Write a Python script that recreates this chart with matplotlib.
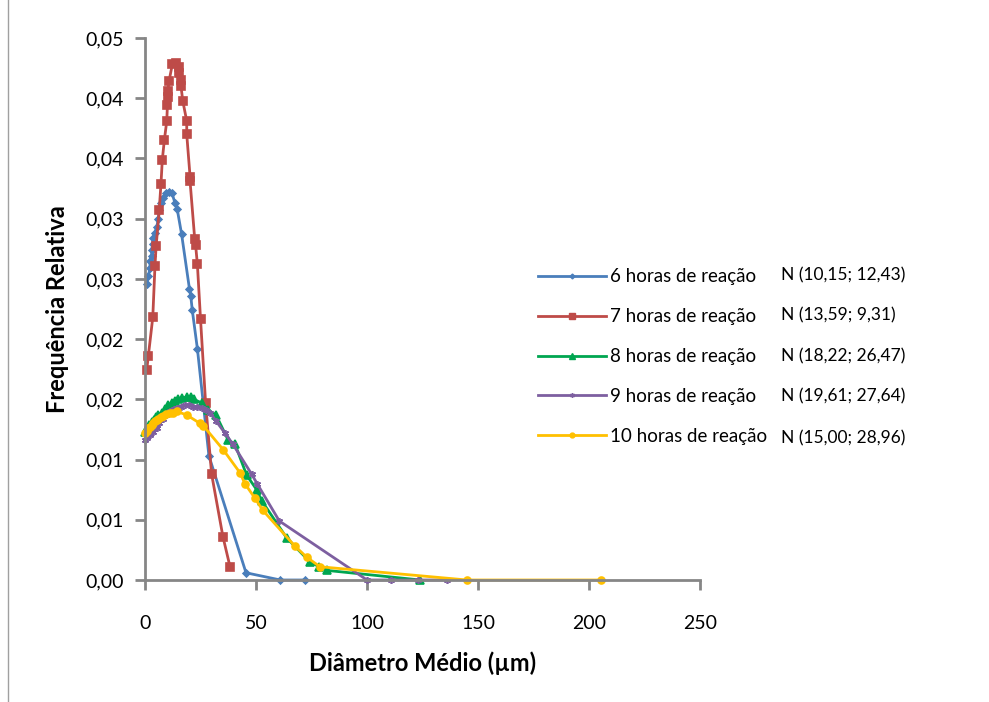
import matplotlib
matplotlib.use("Agg")
import matplotlib.pyplot as plt
from matplotlib.lines import Line2D

# diameter (um) and relative frequency
x_6h = [0.75, 1.5, 2.25, 2.25, 3, 3, 3.5, 3.75, 4.4, 5.3, 6, 6.4, 7, 8.2, 9.5, 11, 12.2,
        13.5, 14.5, 16.5, 20, 20.6, 21.3, 23.6, 28.8, 45.5, 61, 72]
y_6h = [0.0246, 0.0252, 0.0259, 0.0265, 0.0269, 0.0274, 0.0279, 0.0284, 0.0288, 0.0293,
        0.0300, 0.0307, 0.0313, 0.0317, 0.0321, 0.0322, 0.0321, 0.0313, 0.0308, 0.0287,
        0.0242, 0.0236, 0.0224, 0.0192, 0.0103, 0.0006, 0.0, 0.0]

x_7h = [0.75, 1.5, 3.5, 4.5, 5.0, 6.4, 7.2, 7.8, 8.7, 9.8, 10.1, 10.3, 10.3, 10.8, 12.3,
        13.8, 15.3, 15.3, 16.2, 16.2, 17, 18.8, 18.8, 20.3, 20.3, 22.4, 22.8, 23.6, 25,
        27.3, 30, 35.1, 38.3]
y_7h = [0.0174, 0.0186, 0.0218, 0.0261, 0.0277, 0.0307, 0.0329, 0.0349, 0.0365, 0.0381,
        0.0394, 0.0401, 0.0406, 0.0414, 0.0428, 0.0429, 0.0426, 0.0421, 0.0415, 0.0410,
        0.0398, 0.0381, 0.0370, 0.0335, 0.0331, 0.0283, 0.0278, 0.0262, 0.0217, 0.0147,
        0.0088, 0.0036, 0.0011]

x_8h = [0, 1, 2, 3, 4, 5, 6, 7.5, 9, 10.5, 12, 13.5, 15, 16.5, 18.8, 20.5, 22, 25.5,
        28.5, 32, 37.5, 40.5, 45.8, 50.3, 52.5, 63.8, 74.3, 78.5, 81.8, 124]
y_8h = [0.0123, 0.0126, 0.0129, 0.0131, 0.0133, 0.0135, 0.0137, 0.0139, 0.0142, 0.0145,
        0.0147, 0.0149, 0.0150, 0.0151, 0.0152, 0.0152, 0.0150, 0.0147, 0.0141, 0.0137,
        0.0116, 0.0113, 0.0087, 0.0075, 0.0066, 0.0035, 0.0015, 0.0011, 0.0008, 0.0]

x_9h = [0, 1, 2.25, 3.5, 5.3, 6.5, 8.25, 9.5, 11.3, 13, 14.3, 16, 18, 20, 21.8, 23.5,
        25.5, 27.5, 29.3, 32, 36, 39.5, 48, 50.5, 60.5, 100, 111, 123, 136]
y_9h = [0.0116, 0.0118, 0.0120, 0.0123, 0.0126, 0.0130, 0.0134, 0.0137, 0.0140, 0.0142,
        0.0143, 0.0144, 0.0145, 0.0145, 0.0144, 0.0144, 0.0143, 0.0141, 0.0139, 0.0132,
        0.0122, 0.0113, 0.0088, 0.0080, 0.0049, 0.0, 0.0, 0.0, 0.0]

x_10h = [0, 0.75, 1.5, 2.25, 3, 3.75, 4.5, 5.3, 6, 7, 8.25, 9.5, 11.3, 12.5, 14.3, 18.8,
         24.8, 26.3, 35.3, 42.8, 45, 49.5, 53, 67.6, 72.8, 78.8, 145, 205.5]
y_10h = [0.0122, 0.0124, 0.0126, 0.0127, 0.0129, 0.0130, 0.0132, 0.0133, 0.0134, 0.0135,
         0.0136, 0.0138, 0.0139, 0.0139, 0.0140, 0.0137, 0.0130, 0.0128, 0.0108, 0.0089,
         0.0080, 0.0068, 0.0058, 0.0028, 0.0019, 0.0011, 0.0, 0.0]

labels = ["6 horas de reação", "7 horas de reação", "8 horas de reação",
          "9 horas de reação", "10 horas de reação"]
fits = ["N (10,15; 12,43)", "N (13,59; 9,31)", "N (18,22; 26,47)",
        "N (19,61; 27,64)", "N (15,00; 28,96)"]
y_ticks = [0, 0.005, 0.01, 0.015, 0.02, 0.025, 0.03, 0.035, 0.04, 0.045]
y_tick_labels = ["0,00", "0,01", "0,01", "0,02", "0,02", "0,03", "0,03", "0,04", "0,04", "0,05"]
x_ticks = [0, 50, 100, 150, 200, 250]

plt.rcParams['font.family'] = ['Lato', 'DejaVu Sans']

fig = plt.figure(figsize=(9.89, 7.02), dpi=100)
ax = fig.add_axes([145 / 989, 122 / 702, 555 / 989, 542 / 702])

series = [
    (x_6h, y_6h, '#4A7EBB', 'D', 3.5),
    (x_7h, y_7h, '#BE4B48', 's', 5.5),
    (x_8h, y_8h, '#00A650', '^', 5.5),
    (x_9h, y_9h, '#7D5FA0', (6, 2, 0), 5),
    (x_10h, y_10h, '#FFC000', 'o', 5),
]
handles = []
for (xs, ys, c, m, ms), lab in zip(series, labels):
    ax.plot(xs, ys, color=c, lw=2, marker=m, ms=ms, mfc=c, mec=c, mew=1.2, clip_on=False)
    handles.append(Line2D([], [], color=c, lw=2, marker=m, ms=ms * 0.7, mfc=c, mec=c))

ax.set_xlim(0, 250)
ax.set_ylim(0, 0.045)
ax.set_xticks(x_ticks)
ax.set_xticklabels([str(t) for t in x_ticks])
ax.set_yticks(y_ticks)
ax.set_yticklabels(y_tick_labels)
for s in ['top', 'right']:
    ax.spines[s].set_visible(False)
for s in ['left', 'bottom']:
    ax.spines[s].set_color('#868686')
    ax.spines[s].set_linewidth(2)
ax.tick_params(axis='both', color='#868686', width=2, length=7, labelsize=14, pad=8)
ax.tick_params(axis='x', pad=18)

ax.set_xlabel('Diâmetro Médio (µm)', fontsize=17, fontweight='bold', labelpad=14)
ax.set_ylabel('Frequência Relativa', fontsize=17, fontweight='bold', labelpad=12)

leg = fig.legend(handles, labels, loc='upper left', bbox_to_anchor=(529 / 989, 1 - 259 / 702),
                 frameon=False, fontsize=13.5, handlelength=3.6, handletextpad=0.2,
                 labelspacing=1.22, borderpad=0)

fit_y = [275, 315, 356, 396, 438]
for t, yy in zip(fits, fit_y):
    fig.text(781 / 989, 1 - yy / 702, t, fontsize=12.5, va='center', ha='left')

# chart area frame on the left edge
fig.add_artist(Line2D([8 / 989, 8 / 989], [0, 1], color='#A0A0A0', lw=1))

fig.savefig('out.png', dpi=100)
